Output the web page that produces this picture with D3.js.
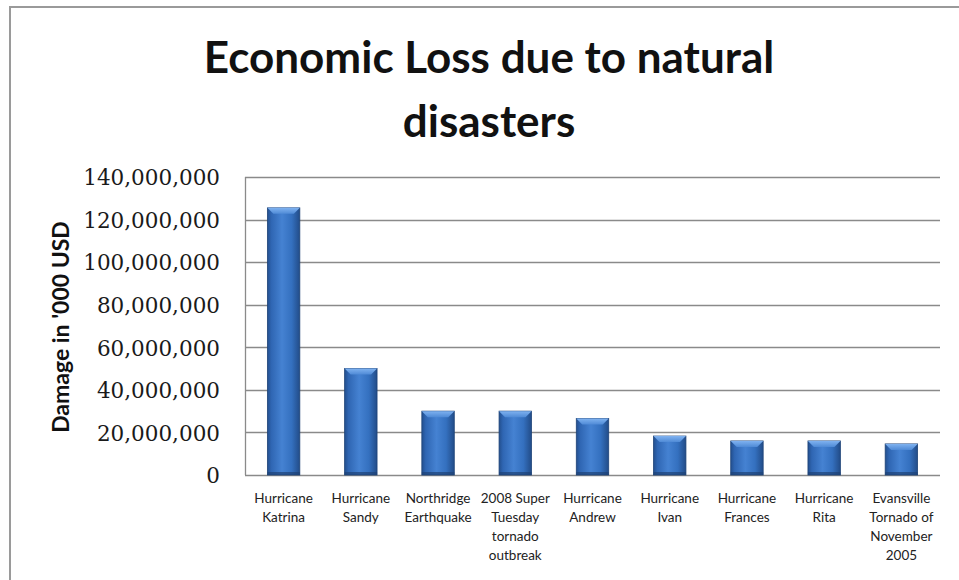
<!DOCTYPE html>
<html>
<head>
<meta charset="utf-8">
<script src="https://cdn.jsdelivr.net/npm/d3@7"></script>
<style>
  html, body { margin: 0; padding: 0; background: #fff; }
  svg { display: block; }
</style>
</head>
<body>
<svg id="chart" width="959" height="580"></svg>
<script>
const categories = [
  ["Hurricane", "Katrina"],
  ["Hurricane", "Sandy"],
  ["Northridge", "Earthquake"],
  ["2008 Super", "Tuesday", "tornado", "outbreak"],
  ["Hurricane", "Andrew"],
  ["Hurricane", "Ivan"],
  ["Hurricane", "Frances"],
  ["Hurricane", "Rita"],
  ["Evansville", "Tornado of", "November", "2005"]
];
const damage = [125500000, 50000000, 30000000, 30000000, 26500000, 18300000, 16000000, 16000000, 14600000];
const yTicks = [0, 20000000, 40000000, 60000000, 80000000, 100000000, 120000000, 140000000];
const titleLines = ["Economic Loss due to natural", "disasters"];
const yTitle = "Damage in '000 USD";

const svg = d3.select("#chart");
const W = 959, H = 580;
const plot = {left: 245, right: 940, top: 177, bottom: 475};

// outer frame
svg.append("path")
  .attr("d", `M10,${H + 2} L10,7 L${W + 2},7`)
  .attr("fill", "none").attr("stroke", "#9a9a9a").attr("stroke-width", 2);

const keys = categories.map((c, i) => i);
const x = d3.scaleBand().domain(keys).range([plot.left, plot.right]).paddingInner(0.58).paddingOuter(0.29);
const y = d3.scaleLinear().domain([0, 140000000]).range([plot.bottom, plot.top]);

// gridlines
svg.append("g").selectAll("line").data(yTicks.filter(d => d > 0)).join("line")
  .attr("x1", plot.left).attr("x2", plot.right)
  .attr("y1", d => Math.round(y(d)) + 0.5).attr("y2", d => Math.round(y(d)) + 0.5)
  .attr("stroke", "#8a8a8a").attr("stroke-width", 1.3);

// y axis
const yAxis = d3.axisLeft(y).tickValues(yTicks).tickSize(0).tickPadding(0)
  .tickFormat(d3.format(","));
const gy = svg.append("g").attr("transform", `translate(${plot.left},0)`).call(yAxis);
gy.select(".domain").remove();
gy.selectAll("text")
  .attr("x", 220 - plot.left)
  .attr("dy", "0.36em")
  .style("font-family", "'DejaVu Serif', serif")
  .style("font-size", "21.5px")
  .attr("fill", "#1a1a1a");

// axis lines
svg.append("line").attr("x1", plot.left + 0.5).attr("x2", plot.left + 0.5)
  .attr("y1", plot.top).attr("y2", plot.bottom)
  .attr("stroke", "#8a8a8a").attr("stroke-width", 1.3);
svg.append("line").attr("x1", plot.left).attr("x2", plot.right)
  .attr("y1", plot.bottom + 0.5).attr("y2", plot.bottom + 0.5)
  .attr("stroke", "#8a8a8a").attr("stroke-width", 1.3);

// gradients
const defs = svg.append("defs");
const grad = defs.append("linearGradient").attr("id", "barGrad")
  .attr("x1", "0").attr("x2", "1").attr("y1", "0").attr("y2", "0");
grad.append("stop").attr("offset", "0%").attr("stop-color", "#234f8e");
grad.append("stop").attr("offset", "12%").attr("stop-color", "#2f66b3");
grad.append("stop").attr("offset", "45%").attr("stop-color", "#4582d2");
grad.append("stop").attr("offset", "75%").attr("stop-color", "#3470bf");
grad.append("stop").attr("offset", "100%").attr("stop-color", "#224c88");
const topGrad = defs.append("linearGradient").attr("id", "topGrad")
  .attr("x1", "0").attr("x2", "0").attr("y1", "0").attr("y2", "1");
topGrad.append("stop").attr("offset", "0%").attr("stop-color", "#7fb2f0");
topGrad.append("stop").attr("offset", "100%").attr("stop-color", "#4f8ad6");

const bars = svg.append("g").selectAll("g").data(damage).join("g");
bars.append("rect")
  .attr("x", (d, i) => x(i))
  .attr("y", d => y(d))
  .attr("width", x.bandwidth())
  .attr("height", d => y(0) - y(d))
  .attr("fill", "url(#barGrad)")
  .attr("stroke", "#1f4478").attr("stroke-width", 0.8);
// top bevel
bars.append("path")
  .attr("d", (d, i) => {
    const x0 = x(i), x1 = x(i) + x.bandwidth(), t = y(d), b = 6;
    return `M${x0},${t} L${x1},${t} L${x1 - b},${t + b} L${x0 + b},${t + b} Z`;
  })
  .attr("fill", "url(#topGrad)");
// bottom shade
bars.append("rect")
  .attr("x", (d, i) => x(i))
  .attr("y", y(0) - 3)
  .attr("width", x.bandwidth())
  .attr("height", 3)
  .attr("fill", "#1e4275").attr("opacity", 0.7);

// x labels
const xl = svg.append("g").selectAll("text").data(categories).join("text")
  .attr("x", (d, i) => x(i) + x.bandwidth() / 2)
  .attr("y", 503)
  .attr("text-anchor", "middle")
  .style("font-family", "Lato, sans-serif")
  .style("font-size", "13.5px")
  .attr("fill", "#222");
xl.selectAll("tspan").data(d => d).join("tspan")
  .attr("x", function() { return this.parentNode.getAttribute("x"); })
  .attr("dy", (d, i) => i === 0 ? 0 : 19)
  .text(d => d);

// title
svg.append("g").selectAll("text").data(titleLines).join("text")
  .attr("x", 489)
  .attr("y", (d, i) => 73 + i * 64)
  .attr("text-anchor", "middle")
  .style("font-family", "Lato, sans-serif")
  .style("font-weight", "bold")
  .style("font-size", "44px")
  .attr("fill", "#111")
  .text(d => d);

// y title
svg.append("text")
  .attr("transform", `translate(69,${(plot.top + plot.bottom) / 2 + 1}) rotate(-90)`)
  .attr("text-anchor", "middle")
  .style("font-family", "Lato, sans-serif")
  .style("font-weight", "bold")
  .style("font-size", "23px")
  .attr("fill", "#111")
  .text(yTitle);
</script>
</body>
</html>
